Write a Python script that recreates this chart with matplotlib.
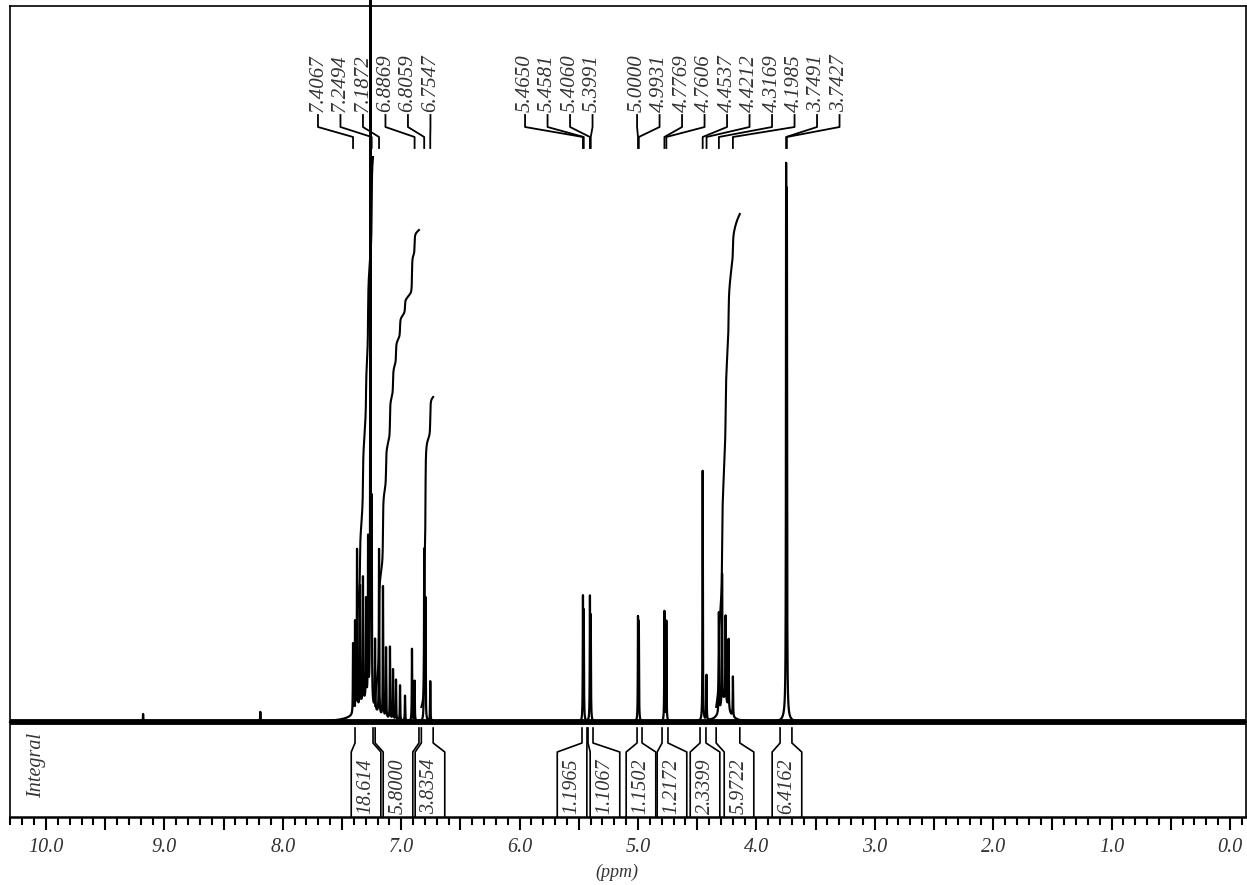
import matplotlib.pyplot as plt
import numpy as np
from matplotlib.ticker import MultipleLocator, FuncFormatter

plt.rcParams["font.family"] = ["Liberation Serif", "DejaVu Serif"]
plt.rcParams["font.style"] = "italic"

# peak list: shift (ppm) and height above baseline
peak_ppm = [7.4067, 7.390, 7.373, 7.348, 7.323, 7.297, 7.280, 7.2494, 7.221,
            7.1872, 7.154, 7.128, 7.095, 7.069, 7.044, 7.010, 6.968, 6.909,
            6.8869, 6.8059, 6.795, 6.7547,
            5.4650, 5.4581, 5.4060, 5.3991, 5.0000, 4.9931, 4.7769, 4.7606,
            4.4537, 4.4212, 4.3169, 4.290, 4.260, 4.235, 4.1985,
            3.7491, 3.7427, 9.18, 8.19]
peak_height = [70, 90, 160, 120, 125, 100, 160, 190, 70,
               165, 130, 70, 72, 50, 40, 35, 25, 72,
               40, 170, 120, 40,
               120, 105, 120, 100, 100, 95, 110, 100,
               250, 45, 100, 130, 85, 70, 40,
               515, 490, 8, 10]
# broad humps under the multiplets
hump_ppm = [7.30, 4.27, 3.75]
hump_height = [20, 22, 8]
hump_width = [0.08, 0.04, 0.02]
# CHCl3
solvent_ppm = 7.26
solvent_height = 800

# picked peaks shown at the top, per group
label_ppm = [[7.4067, 7.2494, 7.1872, 6.8869, 6.8059, 6.7547],
             [5.4650, 5.4581, 5.4060, 5.3991],
             [5.0000, 4.9931, 4.7769, 4.7606, 4.4537, 4.4212, 4.3169, 4.1985,
              3.7491, 3.7427]]
label_start = [7.703, 5.954, 5.008]

# integrals
int_value = ["18.614", "5.8000", "3.8354", "1.1965", "1.1067",
             "1.1502", "1.2172", "2.3399", "5.9722", "6.4162"]
int_from = [7.39, 7.22, 6.83, 5.473, 5.422, 5.008, 4.797, 4.476, 4.34, 3.80]
int_to = [7.238, 6.85, 6.73, 5.431, 5.380, 4.966, 4.747, 4.426, 4.14, 3.70]
int_curve = [565, 492, 325, 0, 0, 0, 0, 0, 508, 0]
box_ppm = [7.297, 7.027, 6.757, 5.557, 5.279, 4.975, 4.713, 4.434, 4.147, 3.742]

x = np.linspace(10.304, -0.135, 60000)


def lorentz(c, h, w=0.0018):
    return h / (1 + ((x - c) / w) ** 2)


sample = sum(lorentz(c, h) for c, h in zip(peak_ppm, peak_height))
sample = sample + sum(lorentz(c, h, w) for c, h, w in zip(hump_ppm, hump_height, hump_width))
spec = sample + lorentz(solvent_ppm, solvent_height)

fig = plt.figure(figsize=(12.47, 8.85), dpi=100)
ax = fig.add_axes([10 / 1247, 1 - 817 / 885, 1236 / 1247, 811 / 885])
ax.set_xlim(10.304, -0.135)
ax.set_ylim(-95, 716)

txt = "#333333"

ax.axhline(0, color="black", lw=4.2)
ax.plot(x, spec, color="black", lw=1.6, clip_on=False)

# integral curves
for a, b, top in zip(int_from, int_to, int_curve):
    if not top:
        continue
    m = (x <= a) & (x >= b)
    c = np.cumsum(sample[m])
    c = 15 + (top - 15) * c / c[-1]
    ax.plot(x[m], c, color="black", lw=1.5)

# integral boxes
hw = 0.125
for val, a, b, c in zip(int_value, int_from, int_to, box_ppm):
    ax.plot([a, a, c + hw, c + hw], [-6, -21, -30, -95], color="black", lw=1.2)
    ax.plot([b, b, c - hw, c - hw], [-6, -21, -30, -95], color="black", lw=1.2)
    ax.text(c, -64, val, rotation=90, ha="center", va="center", fontsize=14.5, color=txt)

# peak labels
for group, start in zip(label_ppm, label_start):
    for i, p in enumerate(group):
        lx = start - i * 0.19
        ax.text(lx, 610, f"{p:.4f}", rotation=90, ha="center", va="bottom",
                fontsize=15, color=txt)
        ax.plot([lx, lx, p, p], [607, 595, 585, 574], color="black", lw=1.3)

ax.text(10.076, -43, "Integral", rotation=90, ha="center", va="center",
        fontsize=14.5, color=txt)

ax.xaxis.set_major_locator(MultipleLocator(0.5))
ax.xaxis.set_minor_locator(MultipleLocator(0.1))
ax.xaxis.set_major_formatter(FuncFormatter(
    lambda v, pos: f"{v:.1f}" if abs(v - round(v)) < 1e-6 else ""))
ax.tick_params(axis="x", which="major", length=9, width=1.5, pad=6,
               labelsize=14.5, labelcolor=txt)
ax.tick_params(axis="x", which="minor", length=6, width=1.5)
ax.set_yticks([])
for s in ax.spines.values():
    s.set_linewidth(1.2)
ax.spines["bottom"].set_linewidth(1.8)

ax.set_xlabel("(ppm)", fontsize=13, color=txt)
ax.xaxis.set_label_coords(0.491, -0.058)

fig.savefig("out.png", dpi=100)
